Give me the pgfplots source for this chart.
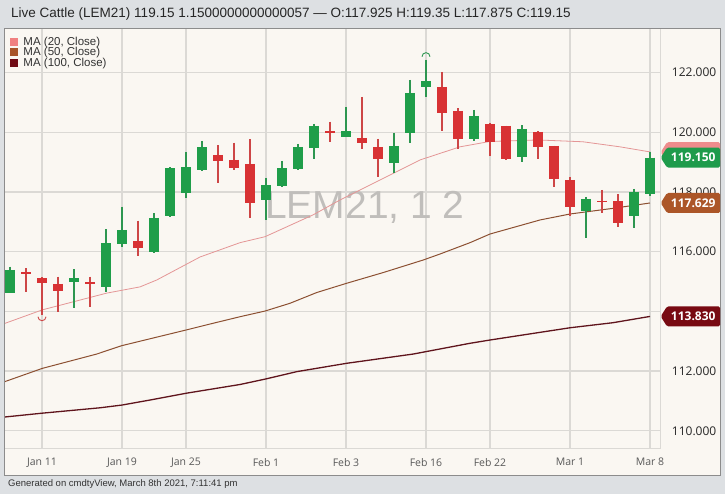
\documentclass[border=0pt]{standalone}
\usepackage{fontspec}
\setmainfont{Liberation Sans}
\newfontfamily\osans{Open Sans}
\usepackage{pgfplots}
\usepackage{pgfplotstable}
\pgfplotsset{compat=1.18}

\definecolor{bgray}{RGB}{221,224,227}
\definecolor{cream}{RGB}{250,247,242}
\definecolor{gridc}{RGB}{219,217,213}
\definecolor{framec}{RGB}{140,140,140}
\definecolor{cup}{RGB}{31,158,74}
\definecolor{cdn}{RGB}{216,50,52}
\definecolor{cupw}{RGB}{45,150,80}
\definecolor{cdnw}{RGB}{205,70,70}
\definecolor{ma20}{RGB}{228,150,150}
\definecolor{ma50}{RGB}{140,80,50}
\definecolor{ma100}{RGB}{95,20,28}
\definecolor{sw20}{RGB}{240,128,128}
\definecolor{sw50}{RGB}{168,84,40}
\definecolor{sw100}{RGB}{112,10,20}
\definecolor{tag20}{RGB}{238,140,140}
\definecolor{tagup}{RGB}{30,155,75}
\definecolor{tag50}{RGB}{172,86,40}
\definecolor{tag100}{RGB}{120,10,18}
\definecolor{wmark}{RGB}{192,190,187}

% high / low markers
\pgfdeclareplotmark{hiarc}{\pgfpathmoveto{\pgfqpoint{\pgfplotmarksize}{0pt}}\pgfpatharc{0}{180}{\pgfplotmarksize}\pgfusepathqstroke}
\pgfdeclareplotmark{loarc}{\pgfpathmoveto{\pgfqpoint{\pgfplotmarksize}{0pt}}\pgfpatharc{0}{-180}{\pgfplotmarksize}\pgfusepathqstroke}

% daily candles, index 0 = Jan 7 ... 40 = Mar 8
\pgfplotstableread{
i o h l c
0 114.63 115.50 114.62 115.39
4 114.98 115.41 114.10 115.11
6 114.83 116.75 114.66 116.28
7 116.25 117.51 116.17 116.73
9 115.99 117.29 115.97 117.13
10 117.20 118.82 117.17 118.79
11 117.98 119.33 117.81 118.83
12 118.75 119.71 118.71 119.50
16 117.73 118.47 117.06 118.23
17 118.20 119.04 118.18 118.80
18 118.77 119.61 118.75 119.51
19 119.47 120.28 119.11 120.21
21 119.84 120.85 119.83 120.04
24 118.97 119.98 118.64 119.54
25 119.98 121.75 119.64 121.32
26 121.52 122.42 121.18 121.72
29 119.78 120.75 119.71 120.55
32 119.17 120.24 119.00 120.11
36 117.36 117.83 116.46 117.77
39 117.20 118.10 116.79 118.00
40 117.925 119.35 117.875 119.15
}\upcandles

\pgfplotstableread{
i o h l c
1 115.31 115.45 114.66 115.25
2 115.11 115.15 113.88 114.94
3 114.92 115.16 113.99 114.69
5 114.98 115.16 114.16 114.93
8 116.36 117.04 115.86 116.13
13 119.24 119.57 118.29 119.04
14 119.07 119.65 118.74 118.79
15 118.94 119.77 117.13 117.62
20 120.04 120.35 119.68 119.98
22 119.81 121.18 119.44 119.64
23 119.51 119.78 118.50 119.11
27 121.52 122.02 120.04 120.65
28 120.71 120.81 119.44 119.78
30 120.28 120.31 119.21 119.68
31 120.21 120.22 119.07 119.11
33 120.01 120.04 119.11 119.51
34 119.54 119.55 118.17 118.44
35 118.40 118.50 117.20 117.50
37 117.71 118.07 117.30 117.65
38 117.70 117.93 116.83 116.96
}\dncandles

\newcommand{\vtag}[3]{%
  \fill[#2, rounded corners=1.5pt] (#1) -- ++(6.3pt,10pt) -- ++(53pt,0) -- ++(0,-20pt) -- ++(-53pt,0) -- cycle;
  \node[text=white, inner sep=0pt, font=\osans\bfseries\fontsize{12}{14}\selectfont] at ([xshift=32.5pt]#1) {#3};}

\begin{document}
\begin{tikzpicture}[x=1pt,y=1pt]
\useasboundingbox (0,0) rectangle (725,494);
\fill[bgray] (0,0) rectangle (725,494);
\fill[cream] (4.3,19) rectangle (720.7,465.7);
\begin{axis}[
  at={(4.3pt,45pt)}, anchor=south west,
  scale only axis, width=656.4pt, height=420.7pt,
  xmin=-0.356, xmax=40.67, ymin=109.39, ymax=123.48,
  clip=false,
  axis line style={draw=gridc, line width=1pt},
  xtick={2,7,11,16,21,26,30,35,40},
  xticklabels={Jan 11,Jan 19,Jan 25,Feb 1,Feb 3,Feb 16,Feb 22,Mar 1,Mar 8},
  ytick={110,112,114,116,118,120,122},
  yticklabels={110.000,112.000,{},116.000,118.000,120.000,122.000},
  yticklabel pos=right,
  major tick length=0pt,
  grid=major, grid style={draw=gridc, line width=1.2pt},
  xticklabel style={font=\osans\fontsize{10.5}{12}\selectfont, text=black!65, anchor=north, inner sep=0pt, yshift=-9pt},
  yticklabel style={font=\osans\fontsize{12}{14}\selectfont, text=black!85, anchor=west, inner sep=0pt, xshift=11pt},
  legend style={at={(0,1)}, anchor=north west, xshift=5.7pt, yshift=-7.3pt, draw=none, fill=none,
    inner sep=0pt, font=\fontsize{11.5}{13}\selectfont, text=black!80, row sep=-1.2pt,
    nodes={inner sep=1pt}, /tikz/every odd column/.append style={column sep=4pt}},
  legend cell align=left,
]
\node[anchor=base west, inner sep=0pt, font=\fontsize{39}{40}\selectfont, text=wmark] at (axis cs:15.94,117.12) {LEM21, 1 2};

\addplot[ma20, line width=0.8pt, legend image code/.code={\fill[sw20] (0pt,-3.5pt) rectangle (7pt,3.5pt);}] coordinates {
 (-0.356,113.59) (2.02,114.05) (6.04,114.61) (8.13,114.82) (9.17,115.05) (11.875,115.82) (14.375,116.30)
 (15.94,116.50) (18.94,117.23) (20.625,117.73) (23.125,118.40) (25.625,119.07)
 (28.125,119.51) (30,119.69) (33,119.74) (35.8,119.68) (38.125,119.51) (40,119.34)};
\addlegendentry{MA (20, Close)}
\addplot[ma50, line width=1pt, legend image code/.code={\fill[sw50] (0pt,-3.5pt) rectangle (7pt,3.5pt);}] coordinates {
 (-0.356,111.64) (2.02,112.09) (5.42,112.57) (6.98,112.85) (11.04,113.38) (12.69,113.60)
 (14.375,113.82) (15.94,114.01) (17.5,114.27) (19.17,114.63) (21.04,114.94) (23.33,115.30)
 (25.83,115.72) (26.875,115.92) (28.75,116.30) (30,116.59) (33.125,117.06) (35,117.26)
 (37.69,117.45) (40,117.629)};
\addlegendentry{MA (50, Close)}
\addplot[ma100, line width=1.3pt, legend image code/.code={\fill[sw100] (0pt,-3.5pt) rectangle (7pt,3.5pt);}] coordinates {
 (-0.356,110.46) (2.02,110.59) (5.625,110.77) (6.98,110.86) (8.75,111.03) (11.04,111.26)
 (14.375,111.55) (15.94,111.73) (17.92,111.98) (21.04,112.26) (25.2,112.57) (28.75,112.93)
 (30,113.04) (35,113.45) (37.69,113.62) (40,113.83)};
\addlegendentry{MA (100, Close)}

% wicks
\addplot[forget plot, draw=none, mark=none, error bars/.cd, y dir=minus, y explicit, error mark=none,
  error bar style={draw=cupw, line width=1.3pt}]
  table[x=i, y=h, y error minus expr={\thisrow{h}-\thisrow{l}}] {\upcandles};
\addplot[forget plot, draw=none, mark=none, error bars/.cd, y dir=minus, y explicit, error mark=none,
  error bar style={draw=cdnw, line width=1.3pt}]
  table[x=i, y=h, y error minus expr={\thisrow{h}-\thisrow{l}}] {\dncandles};
% bodies
\addplot[forget plot, draw=none, mark=none, error bars/.cd, y dir=minus, y explicit, error mark=none,
  error bar style={draw=cup, line width=10.5pt}]
  table[x=i, y=c, y error minus expr={\thisrow{c}-\thisrow{o}}] {\upcandles};
\addplot[forget plot, draw=none, mark=none, error bars/.cd, y dir=minus, y explicit, error mark=none,
  error bar style={draw=cdn, line width=10.5pt}]
  table[x=i, y=o, y error minus expr={\thisrow{o}-\thisrow{c}}] {\dncandles};

\addplot[forget plot, only marks, mark=hiarc, mark size=4pt, mark options={draw=cupw, line width=0.9pt}] coordinates {(26,122.53)};
\addplot[forget plot, only marks, mark=loarc, mark size=4pt, mark options={draw=cdnw, line width=0.9pt}] coordinates {(2,113.82)};

\coordinate (t20) at (axis cs:40.67,119.33);
\coordinate (tup) at (axis cs:40.67,119.15);
\coordinate (t50) at (axis cs:40.67,117.629);
\coordinate (t100) at (axis cs:40.67,113.83);
\end{axis}
\draw[framec, line width=0.9pt] (4.3,19) rectangle (720.7,465.7);
\vtag{t20}{tag20}{}
\vtag{tup}{tagup}{119.150}
\vtag{t50}{tag50}{117.629}
\vtag{t100}{tag100}{113.830}
\node[anchor=base west, inner sep=0pt, font=\fontsize{13.5}{15}\selectfont, text=black!85] at (11,476.7)
  {Live Cattle (LEM21) 119.15 1.1500000000000057 — O:117.925 H:119.35 L:117.875 C:119.15};
\node[anchor=base west, inner sep=0pt, font=\fontsize{9.5}{11}\selectfont, text=black!80] at (8,7.5)
  {Generated on cmdtyView, March 8th 2021, 7:11:41 pm};
\end{tikzpicture}
\end{document}
